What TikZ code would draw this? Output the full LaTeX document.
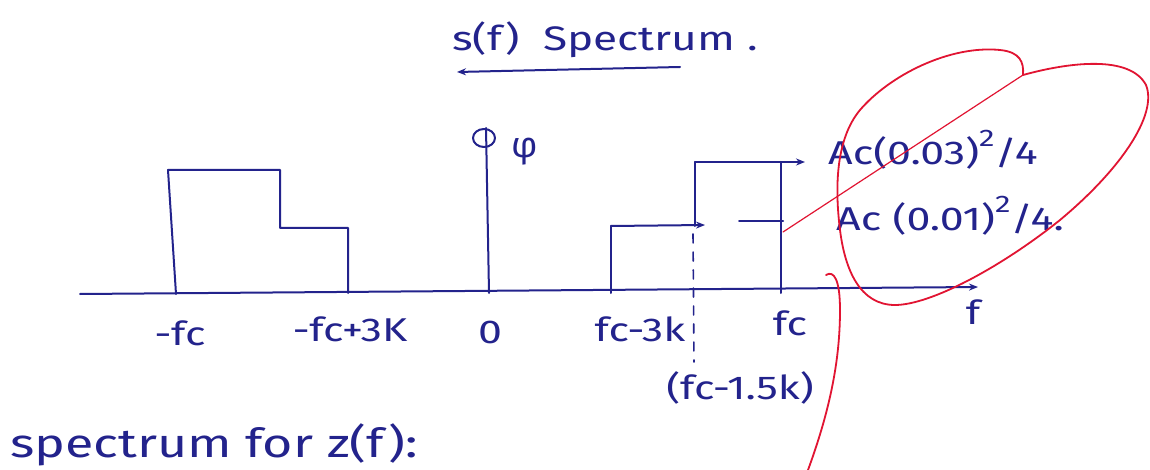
\documentclass[tikz,border=0pt]{standalone}
\usepackage{fontspec}
\setmainfont{Fira Sans}[FakeStretch=1.3]
\newfontfamily\greekfont{Fira Sans}
\usetikzlibrary{arrows.meta}
\definecolor{inkblue}{RGB}{35,35,140}
\definecolor{redpen}{RGB}{225,20,50}
\newcommand{\handsup}[1]{\raisebox{0.55em}{\fontsize{24}{26}\selectfont #1}}
\begin{document}
\begin{tikzpicture}[x=1pt,y=-1pt,
  ink/.style={draw=inkblue, line width=2pt, line cap=round, line join=round},
  redink/.style={draw=redpen, line width=1.8pt, line cap=round, line join=round},
  lbl/.style={text=inkblue, font=\fontsize{33}{38}\selectfont, inner sep=0pt},
  arr/.style={-{Stealth[length=9pt,width=7pt]}}]
\useasboundingbox (0,0) rectangle (1150,470);
\fill[white] (0,0) rectangle (1150,470);
% title
\node[lbl, font=\fontsize{34}{38}\selectfont] (title) at (605,40) {s(f)\ \ Spectrum\ .};
\coordinate (ua) at (680,67);
\coordinate (ub) at (457,72);
\draw[ink,arr] (ua) -- (ub);
% axis
\coordinate (ax0) at (80,294);
\coordinate (ax1) at (978,287);
\draw[ink,arr] (ax0) -- (ax1);
% left spectrum
\coordinate (L1) at (176,294);
\coordinate (L2) at (168,170);
\coordinate (L3) at (280,170);
\coordinate (L4) at (280,228);
\coordinate (L5) at (348,228);
\coordinate (L6) at (348,293);
\draw[ink] (L1) -- (L2) -- (L3) -- (L4) -- (L5) -- (L6);
% impulse at zero
\coordinate (I0) at (489,293);
\coordinate (I1) at (486,128);
\draw[ink] (I0) -- (I1);
\draw[ink] (484,138) ellipse [x radius=11, y radius=9];
\node[lbl, font=\greekfont\fontsize{36}{40}\selectfont] (phi) at (525,152) {φ};
% right spectrum
\coordinate (R1) at (611,293);
\coordinate (R2) at (611,226);
\coordinate (R3) at (705,225);
\draw[ink] (R1) -- (R2);
\draw[ink,arr] (R2) -- (R3);
\coordinate (T1) at (695,226);
\coordinate (T2) at (695,162);
\coordinate (T3) at (805,162);
\draw[ink] (T1) -- (T2);
\draw[ink,arr] (T2) -- (T3);
\coordinate (E1) at (781,162);
\coordinate (E2) at (781,293);
\draw[ink] (E1) -- (E2);
\coordinate (K1) at (739,221);
\coordinate (K2) at (783,221);
\draw[ink] (K1) -- (K2);
\coordinate (D1) at (693,234);
\coordinate (D2) at (694,362);
\draw[ink, line width=1.6pt, dash pattern=on 9pt off 9pt] (D1) -- (D2);
% labels
\node[lbl] (mfc) at (180,333) {-fc};
\node[lbl] (mfc3) at (350,329) {-fc+3K};
\node[lbl] (zero) at (490,332) {0};
\node[lbl] (fc3) at (640,329) {fc-3k};
\node[lbl] (fc) at (790,323) {fc};
\node[lbl] (f) at (973,312) {f};
\node[lbl] (fc15) at (740,388) {(fc-1.5k)};
\node[lbl, anchor=west] (a1) at (828,150) {Ac(0.03)\handsup{2}/4};
\node[lbl, anchor=west] (a2) at (836,216) {Ac (0.01)\handsup{2}/4.};
\node[lbl, anchor=west, font=\fontsize{40}{44}\selectfont] (bot) at (10,445) {spectrum for z(f):};
% red annotations
\coordinate (rs) at (783,232);
\coordinate (rh) at (1023,75);
\draw[redink, line width=1.2pt] (rs) -- (rh);
\draw[redink] (rh) .. controls (1070,62) and (1130,55) .. (1146,85)
  .. controls (1158,115) and (1120,170) .. (1060,220)
  .. controls (1000,268) and (930,305) .. (895,305)
  .. controls (860,305) and (845,270) .. (840,230)
  .. controls (835,190) and (835,140) .. (860,110)
  .. controls (890,75) and (950,45) .. (1000,50)
  .. controls (1020,52) and (1024,62) .. (rh);
\coordinate (rv0) at (826,275);
\coordinate (rv1) at (808,470);
\draw[redink] (rv0) .. controls (834,270) and (840,280) .. (840,310)
  .. controls (840,360) and (830,410) .. (rv1);
\end{tikzpicture}
\end{document}
